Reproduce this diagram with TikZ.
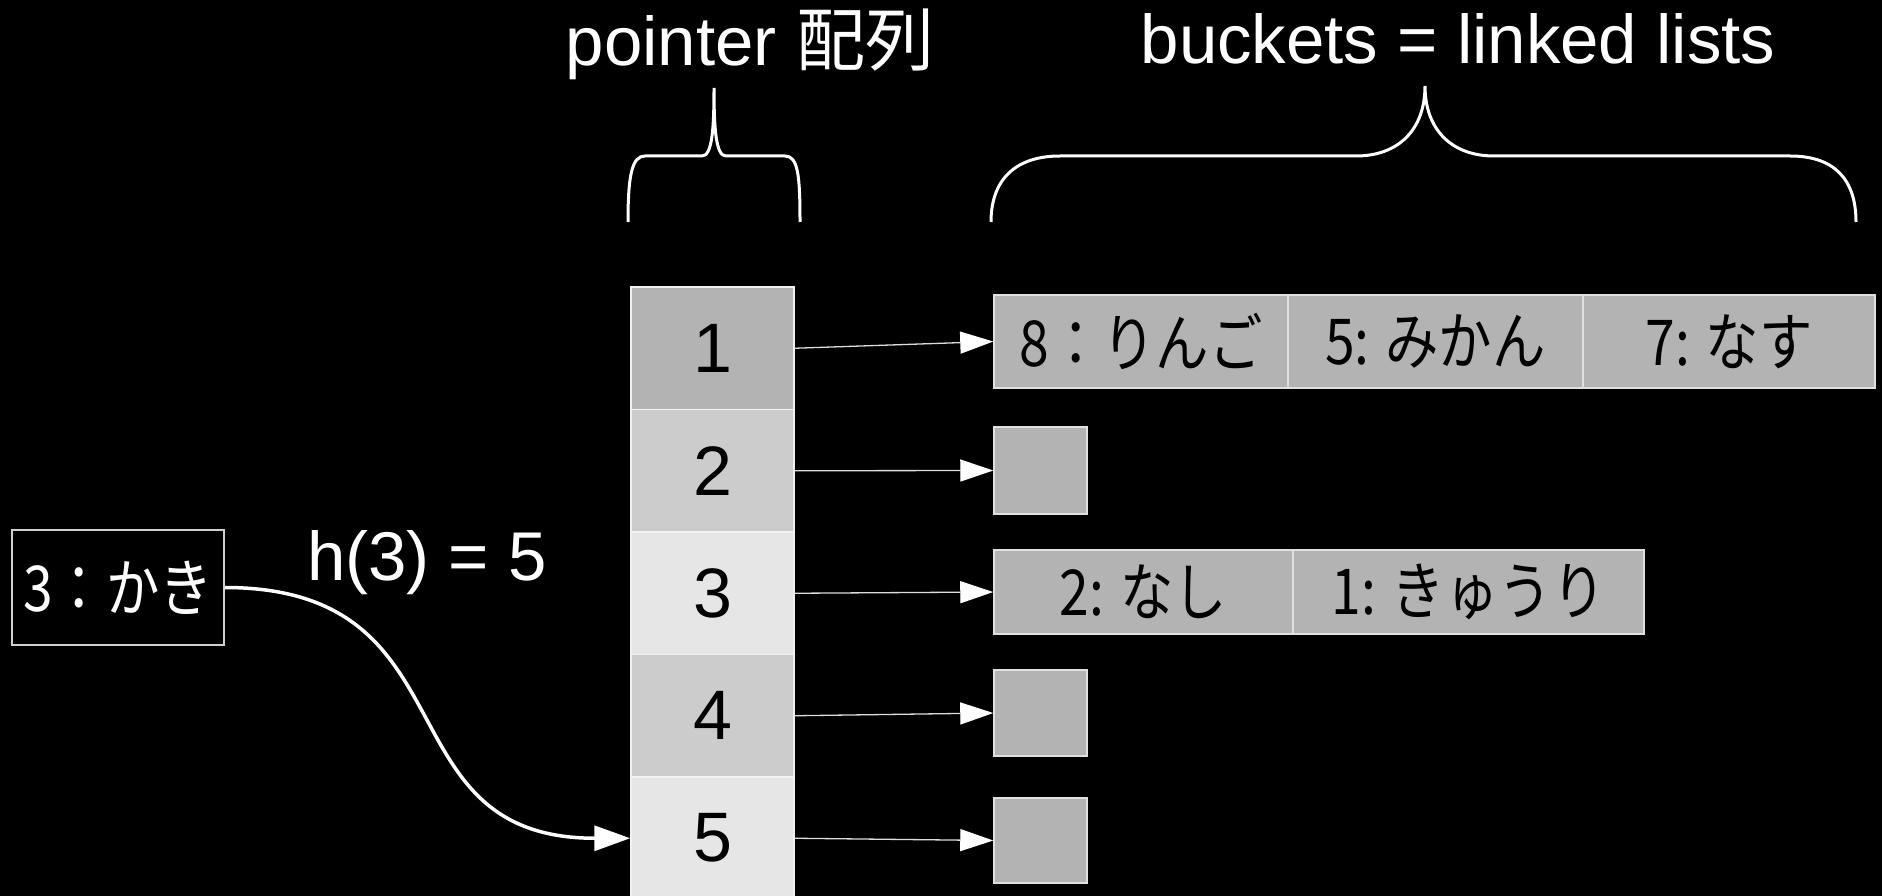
\documentclass[tikz,border=0pt]{standalone}
\usepackage{fontspec}
\usepackage{graphicx}
\setmainfont{Liberation Sans}
\newfontfamily\jpfont{Noto Sans CJK JP}
\usetikzlibrary{arrows.meta}
\newcommand\jtall[1]{\scalebox{0.97}[1.15]{#1}}
\definecolor{cA}{HTML}{B3B3B3}
\definecolor{cB}{HTML}{CCCCCC}
\definecolor{cC}{HTML}{E6E6E6}
\definecolor{cellborder}{HTML}{F2F2F2}
\definecolor{bborder}{HTML}{E0E0E0}
\definecolor{ptrline}{HTML}{DDDDDD}
\definecolor{boxborder}{HTML}{D0D0D0}
\begin{document}
\begin{tikzpicture}[x=1pt,y=-1pt,
  cell/.style={draw=cellborder, line width=1.5pt, minimum width=163pt, minimum height=122.5pt, inner sep=0pt, font=\fontsize{70}{80}\selectfont, text=black},
  bcell/.style={draw=bborder, fill=cA, line width=1.5pt, inner sep=0pt, font=\jpfont\fontsize{55}{60}\selectfont, text=black},
  ptr/.style={draw=ptrline, line width=1.3pt, -{Triangle[length=33pt,width=22pt,fill=white,color=white]}},
  brace/.style={draw=white, line width=3pt},
  title/.style={text=white, font=\fontsize{69}{80}\selectfont, anchor=base, inner sep=0pt}]
\fill[black] (0,0) rectangle (1882,896);
\useasboundingbox (0,0) rectangle (1882,896);

% titles
\node[title] (t1) at (750,66) {pointer {\jpfont 配列}};
\node[title] (t2) at (1458,64) {buckets = linked lists};

% braces
\draw[brace] (628,222) .. controls (628,175) and (632,156) .. (645,156) -- (702,156)
  .. controls (712,156) and (714,130) .. (714,88)
  .. controls (714,130) and (716,156) .. (726,156) -- (785,156)
  .. controls (798,156) and (800,175) .. (800,222);
\draw[brace] (991,222) .. controls (991,180) and (1015,156) .. (1060,156) -- (1356,156)
  .. controls (1398,156) and (1425,130) .. (1425,86)
  .. controls (1425,130) and (1452,156) .. (1494,156) -- (1790,156)
  .. controls (1835,156) and (1856,180) .. (1856,222);

% pointer array
\node[cell, fill=cA] (p1) at (712.5,348.25) {1};
\node[cell, fill=cB] (p2) at (712.5,470.75) {2};
\node[cell, fill=cC] (p3) at (712.5,593.25) {3};
\node[cell, fill=cB] (p4) at (712.5,715.75) {4};
\node[cell, fill=cC] (p5) at (712.5,838.25) {5};

% buckets
\node[bcell, minimum width=294pt, minimum height=93pt] (b1a) at (1141,341.5) {\jtall{8：りんご}};
\node[bcell, minimum width=295pt, minimum height=93pt] (b1b) at (1435.5,341.5) {\jtall{5: みかん}};
\node[bcell, minimum width=292pt, minimum height=93pt] (b1c) at (1729,341.5) {\jtall{7: なす}};
\node[bcell, minimum width=93pt, minimum height=87pt] (b2) at (1040.5,470.5) {};
\node[bcell, minimum width=299pt, minimum height=84pt] (b3a) at (1143.5,592) {\jtall{2: なし}};
\node[bcell, minimum width=351pt, minimum height=84pt] (b3b) at (1468.5,592) {\jtall{1: きゅうり}};
\node[bcell, minimum width=93pt, minimum height=86pt] (b4) at (1040.5,713) {};
\node[bcell, minimum width=93pt, minimum height=85pt] (b5) at (1040.5,840.5) {};

\draw[ptr] (p1.east) -- (b1a.west);
\draw[ptr] (p2.east) -- (b2.west);
\draw[ptr] (p3.east) -- (b3a.west);
\draw[ptr] (p4.east) -- (b4.west);
\draw[ptr] (p5.east) -- (b5.west);

% key box
\node[draw=boxborder, line width=1.5pt, minimum width=212pt, minimum height=115pt, inner sep=0pt, text=white, font=\jpfont\fontsize{55}{60}\selectfont] (key) at (118,587.5) {\jtall{3：かき}};
\node[title] (h) at (427,580) {h(3) = 5};
\draw[white, line width=3.5pt, -{Triangle[length=36pt,width=25pt]}] (key.east) to[out=0,in=180,looseness=1.35] (p5.west);
\end{tikzpicture}
\end{document}
